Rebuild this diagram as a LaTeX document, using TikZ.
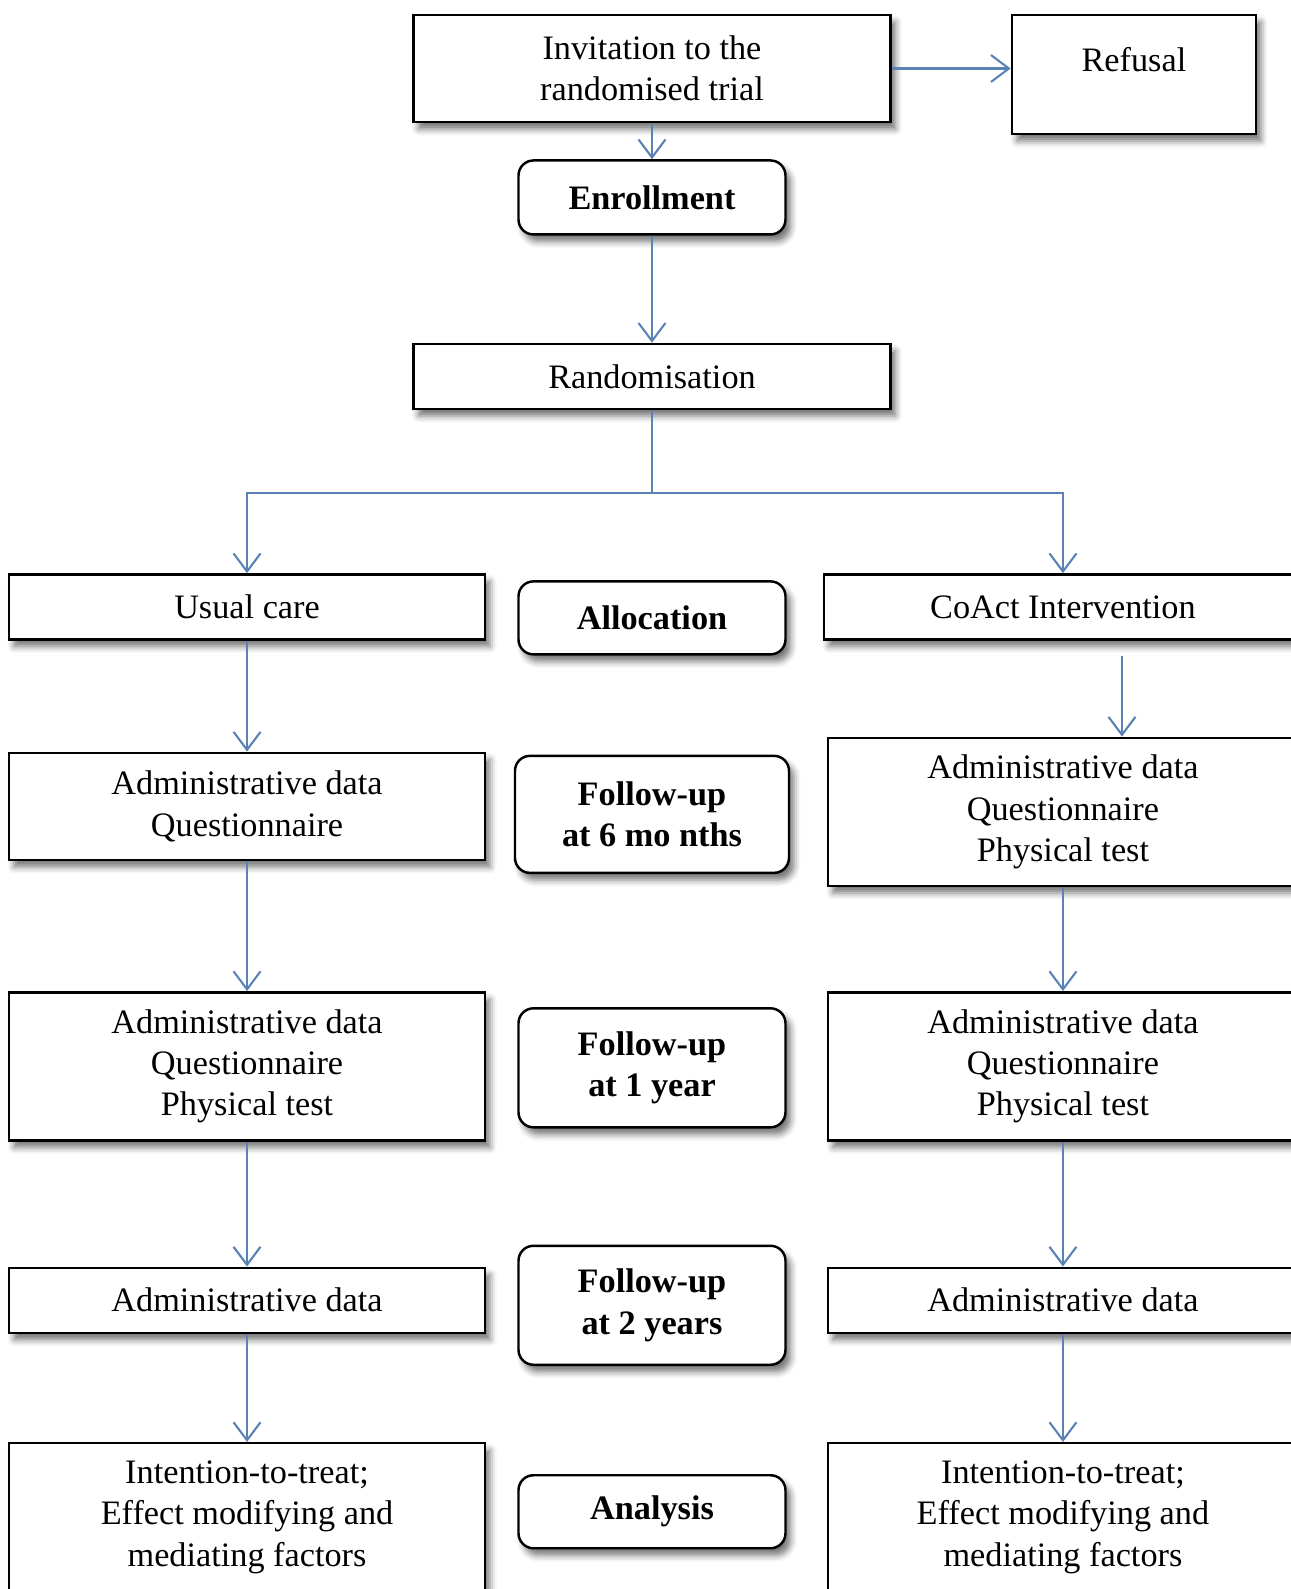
\documentclass[tikz,border=0pt]{standalone}
\usepackage{fontspec}
\setmainfont{Liberation Serif}
\usepackage{tikz}
\usetikzlibrary{arrows.meta, positioning, shadows.blur}
\definecolor{arrowblue}{HTML}{5A82B4}

\begin{document}
\begin{tikzpicture}[
  node distance=0.6cm,
  box/.style={draw, line width=1.4pt, fill=white, align=center, inner sep=4pt, font=\fontsize{19.5pt}{23.6pt}\selectfont,
    blur shadow={shadow xshift=1mm, shadow yshift=-1.4mm, shadow blur radius=1.3mm, shadow opacity=55}},
  wide/.style={box, minimum width=9.52cm},
  phase/.style={box, rounded corners=0.3cm, minimum width=5.34cm, font=\fontsize{19.5pt}{23.6pt}\selectfont\bfseries},
  arr/.style={-{Straight Barb[length=0.36cm, width=0.54cm]}, line width=1.2pt, draw=arrowblue},
]
\useasboundingbox (-13.04,1.37) rectangle (12.76,-30.41);

% centre column
\node[wide, minimum width=9.54cm, minimum height=2.14cm] (invite) {Invitation to the\\randomised trial};
\node[box, minimum width=4.88cm, minimum height=2.38cm, text depth=0.62cm, right=2.38cm of invite.north east, anchor=north west] (refusal) {Refusal};
\node[phase, minimum height=1.48cm, below=0.72cm of invite] (enroll) {Enrollment};
\node[wide, minimum width=9.54cm, minimum height=1.3cm, below=2.14cm of enroll] (random) {Randomisation};
\node[phase, minimum height=1.46cm, below=3.4cm of random] (alloc) {Allocation};
\node[phase, minimum width=5.48cm, minimum height=2.34cm, below=1.98cm of alloc] (fu6) {Follow-up\\at 6 mo nths};
\node[phase, minimum height=2.38cm, below=2.66cm of fu6] (fu1) {Follow-up\\at 1 year};
\node[phase, minimum height=2.38cm, below=2.32cm of fu1] (fu2) {Follow-up\\at 2 years};
\node[phase, minimum height=1.46cm, below=2.16cm of fu2] (analysis) {Analysis};

% usual care arm
\node[wide, minimum height=1.3cm, left=0.62cm of alloc, yshift=0.22cm] (usual) {Usual care};
\node[wide, minimum height=2.14cm, below=2.22cm of usual] (usual6) {Administrative data\\Questionnaire};
\node[wide, minimum height=2.96cm, below=2.6cm of usual6] (usual1) {Administrative data\\Questionnaire\\Physical test};
\node[wide, minimum height=1.3cm, below=2.5cm of usual1] (usual2) {Administrative data};
\node[wide, minimum height=2.96cm, below=2.16cm of usual2] (usualan) {Intention-to-treat;\\Effect modifying and\\mediating factors};

% CoAct arm
\node[wide, minimum width=9.56cm, minimum height=1.3cm, right=0.72cm of alloc, yshift=0.22cm] (coact) {CoAct Intervention};
\node[wide, minimum width=9.4cm, minimum height=2.96cm, below=1.92cm of coact] (coact6) {Administrative data\\Questionnaire\\Physical test};
\node[wide, minimum width=9.4cm, minimum height=2.96cm, below=2.08cm of coact6] (coact1) {Administrative data\\Questionnaire\\Physical test};
\node[wide, minimum width=9.4cm, minimum height=1.3cm, below=2.5cm of coact1] (coact2) {Administrative data};
\node[wide, minimum width=9.4cm, minimum height=2.96cm, below=2.16cm of coact2] (coactan) {Intention-to-treat;\\Effect modifying and\\mediating factors};

\coordinate[below=1.65cm of random.south] (split);

\draw[arr] (invite) -- (enroll);
\draw[arr] (invite) -- (invite -| refusal.west);
\draw[arr] (enroll) -- (random);
\draw[arr] (random) -- (split) -| (usual);
\draw[arr] (split) -| (coact);
\draw[arr] (usual) -- (usual6);
\draw[arr] (usual6) -- (usual1);
\draw[arr] (usual1) -- (usual2);
\draw[arr] (usual2) -- (usualan);
\draw[arr] ([xshift=1.18cm, yshift=-0.3cm]coact.south) -- ([xshift=1.18cm]coact6.north);
\draw[arr] (coact6) -- (coact1);
\draw[arr] (coact1) -- (coact2);
\draw[arr] (coact2) -- (coactan);

\end{tikzpicture}
\end{document}
